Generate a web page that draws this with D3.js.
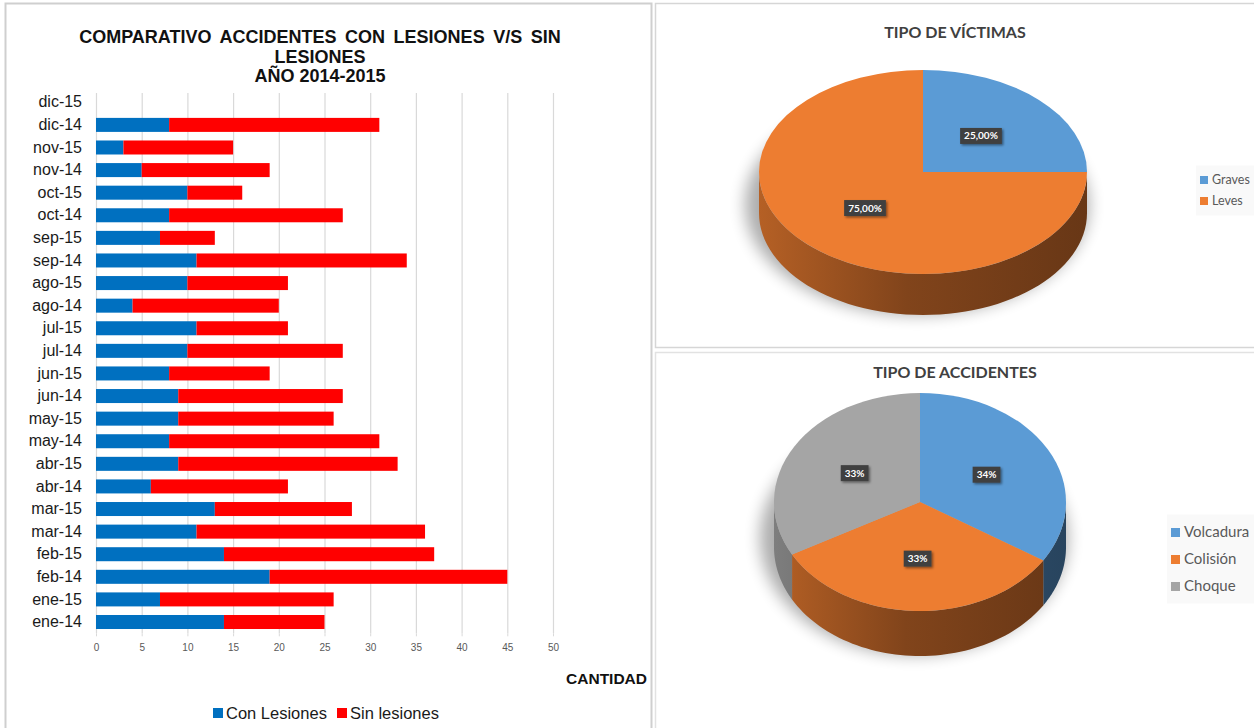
<!DOCTYPE html>
<html>
<head>
<meta charset="utf-8">
<script src="https://cdnjs.cloudflare.com/ajax/libs/d3/7.8.5/d3.min.js"></script>
<style>
  body { margin: 0; background: #fff; }
  svg { display: block; }
</style>
</head>
<body>
<div id="wrapper"></div>
<script>

// 1. Data
const months = ["dic-15", "dic-14", "nov-15", "nov-14", "oct-15", "oct-14", "sep-15", "sep-14",
    "ago-15", "ago-14", "jul-15", "jul-14", "jun-15", "jun-14", "may-15", "may-14",
    "abr-15", "abr-14", "mar-15", "mar-14", "feb-15", "feb-14", "ene-15", "ene-14"]
const conLesiones = [0, 8, 3, 5, 10, 8, 7, 11, 10, 4, 11, 10, 8, 9, 9, 8, 9, 6, 13, 11, 14, 19, 7, 14]
const sinLesiones = [0, 23, 12, 14, 6, 19, 6, 23, 11, 16, 10, 17, 11, 18, 17, 23, 24, 15, 15, 25, 23, 26, 19, 11]
const seriesNames = ["Con Lesiones", "Sin lesiones"]
const seriesColors = ["#0070C0", "#FF0000"]
const xTicks = [0, 5, 10, 15, 20, 25, 30, 35, 40, 45, 50]

const victimLabels = ["Graves", "Leves"]
const victimValues = [25, 75]
const victimText = ["25,00%", "75,00%"]

const accidentLabels = ["Volcadura", "Colisión", "Choque"]
const accidentValues = [34, 33, 33]
const accidentText = ["34%", "33%", "33%"]

const pieColors = ["#5B9BD5", "#ED7D31", "#A5A5A5"]

function draw(){

    const svg = d3.select("#wrapper")
        .append("svg")
        .attr("width", 1254)
        .attr("height", 728)

    const defs = svg.append("defs")

    defs.append("filter")
        .attr("id", "pieShadow")
        .attr("x", "-30%").attr("y", "-30%").attr("width", "160%").attr("height", "160%")
        .append("feGaussianBlur")
        .attr("stdDeviation", 8)

    const boxShadow = defs.append("filter")
        .attr("id", "boxShadow")
        .attr("x", "-40%").attr("y", "-40%").attr("width", "180%").attr("height", "180%")
    boxShadow.append("feDropShadow")
        .attr("dx", 1.5).attr("dy", 1.5)
        .attr("stdDeviation", 1.2)
        .attr("flood-color", "#000")
        .attr("flood-opacity", 0.45)

    // 2. Panel frames
    svg.append("rect")
        .attr("x", 5.5).attr("y", 3.5)
        .attr("width", 646).attr("height", 730)
        .attr("fill", "none")
        .attr("stroke", "#cfcfcf")
        .attr("stroke-width", 2)

    svg.append("rect")
        .attr("x", 655.5).attr("y", 3.5)
        .attr("width", 604).attr("height", 344)
        .attr("fill", "none")
        .attr("stroke", "#d6d6d6")
        .attr("stroke-width", 1.5)

    svg.append("rect")
        .attr("x", 655.5).attr("y", 352.5)
        .attr("width", 604).attr("height", 380)
        .attr("fill", "none")
        .attr("stroke", "#e2e2e2")
        .attr("stroke-width", 1.5)

    // 3. Stacked bar chart
    const barFont = "'Liberation Sans', Arial, sans-serif"

    const xScale = d3.scaleLinear()
        .domain([0, 50])
        .range([96, 553])

    const yScale = d3.scaleBand()
        .domain(months)
        .range([91, 633.3])
        .paddingInner(0.38)
        .paddingOuter(0.19)

    const colorScale = d3.scaleOrdinal()
        .domain(seriesNames)
        .range(seriesColors)

    const title = svg.append("text")
        .attr("x", 320)
        .attr("text-anchor", "middle")
        .style("font-family", barFont)
        .style("font-weight", "bold")
        .style("font-size", "18px")
        .style("fill", "#111")
    title.append("tspan").attr("x", 320).attr("y", 43).attr("word-spacing", "3.6px")
        .text("COMPARATIVO ACCIDENTES CON LESIONES V/S SIN")
    title.append("tspan").attr("x", 320).attr("y", 63).text("LESIONES")
    title.append("tspan").attr("x", 320).attr("y", 82).text("AÑO 2014-2015")

    // gridlines
    const grid = svg.append("g")
        .attr("transform", `translate(0, ${yScale.range()[1]})`)
        .call(d3.axisBottom(xScale)
            .tickValues(xTicks)
            .tickSize(-(yScale.range()[1] - 93))
            .tickFormat(""))
    grid.select(".domain").remove()
    grid.selectAll(".tick line")
        .attr("stroke", "#d9d9d9")
        .attr("stroke-width", 1.2)

    // x tick labels
    const xAxis = svg.append("g")
        .attr("transform", `translate(0, ${yScale.range()[1]})`)
        .call(d3.axisBottom(xScale)
            .tickValues(xTicks)
            .tickSize(3)
            .tickPadding(8))
    xAxis.select(".domain").remove()
    xAxis.selectAll(".tick line").attr("stroke", "#d9d9d9")
    xAxis.selectAll("text")
        .style("font-family", barFont)
        .style("font-size", "10px")
        .style("fill", "#595959")

    // category labels
    const yAxis = svg.append("g")
        .attr("transform", "translate(96, 0)")
        .call(d3.axisLeft(yScale).tickSize(0).tickPadding(14))
    yAxis.select(".domain").remove()
    yAxis.selectAll("text")
        .style("font-family", barFont)
        .style("font-size", "16px")
        .style("fill", "#1a1a1a")

    const barRows = months.map((m, i) => ({month: m, "Con Lesiones": conLesiones[i], "Sin lesiones": sinLesiones[i]}))
    const stacked = d3.stack().keys(seriesNames)(barRows)

    svg.append("g")
        .selectAll("g")
        .data(stacked)
        .join("g")
        .attr("fill", d => colorScale(d.key))
        .selectAll("rect")
        .data(d => d)
        .join("rect")
        .attr("x", d => xScale(d[0]))
        .attr("y", d => yScale(d.data.month))
        .attr("width", d => xScale(d[1]) - xScale(d[0]))
        .attr("height", yScale.bandwidth())

    svg.append("text")
        .attr("x", 647)
        .attr("y", 684)
        .attr("text-anchor", "end")
        .style("font-family", barFont)
        .style("font-weight", "bold")
        .style("font-size", "15.5px")
        .style("fill", "#111")
        .text("CANTIDAD")

    const barLegend = svg.append("g")
        .selectAll("g")
        .data(seriesNames)
        .join("g")
        .attr("transform", (d, i) => `translate(${213 + i * 124}, 713)`)
    barLegend.append("rect")
        .attr("x", 0).attr("y", -5)
        .attr("width", 10).attr("height", 10)
        .attr("fill", d => colorScale(d))
    barLegend.append("text")
        .attr("x", 13)
        .attr("y", 6)
        .style("font-family", barFont)
        .style("font-size", "16.5px")
        .style("fill", "#1a1a1a")
        .text(d => d)

    // 4. 3D pies
    const pieFont = "Lato, 'Open Sans', sans-serif"

    function drawPie(opts){
        const {cx, cy, rx, ry, depth, labels, values, texts, titleText, titleY, k, legend} = opts
        const g = svg.append("g")

        g.append("text")
            .attr("x", 955)
            .attr("y", titleY)
            .attr("text-anchor", "middle")
            .style("font-family", pieFont)
            .style("font-weight", "bold")
            .style("font-size", "16px")
            .style("fill", "#404040")
            .text(titleText)

        const pie = d3.pie().sort(null).value(d => d)
        const arcs = pie(values)
        const colors = d3.scaleOrdinal().domain(labels).range(pieColors)

        // soft shadow below the disc
        g.append("ellipse")
            .attr("cx", cx - 6)
            .attr("cy", cy + depth * 0.8)
            .attr("rx", rx + 8)
            .attr("ry", ry + 8)
            .attr("fill", "#000")
            .attr("opacity", 0.32)
            .attr("filter", "url(#pieShadow)")

        // side walls (only the front half is visible)
        const pt = (t, dy) => [cx + rx * Math.sin(t), cy - ry * Math.cos(t) + dy]
        const line = d3.line()
        arcs.forEach((a, i) => {
            const s = Math.max(a.startAngle, Math.PI / 2)
            const e = Math.min(a.endAngle, Math.PI * 1.5)
            if (s >= e) return
            const n = 60
            const ts = d3.range(n + 1).map(j => s + (e - s) * j / n)
            const pts = ts.map(t => pt(t, 0)).concat(ts.slice().reverse().map(t => pt(t, depth)))

            const gid = `wall-${opts.id}-${i}`
            const base = d3.color(colors(labels[i]))
            const grad = defs.append("linearGradient")
                .attr("id", gid)
                .attr("gradientUnits", "userSpaceOnUse")
                .attr("x1", cx - rx).attr("x2", cx + rx)
                .attr("y1", 0).attr("y2", 0)
            grad.append("stop").attr("offset", "0%").attr("stop-color", base.darker(0.75))
            grad.append("stop").attr("offset", "45%").attr("stop-color", base.darker(1.7))
            grad.append("stop").attr("offset", "100%").attr("stop-color", base.darker(2.3))

            g.append("path")
                .attr("d", line(pts) + "Z")
                .attr("fill", `url(#${gid})`)
        })

        // top face
        g.append("g")
            .attr("transform", `translate(${cx}, ${cy}) scale(1, ${ry / rx})`)
            .selectAll("path")
            .data(arcs)
            .join("path")
            .attr("d", d3.arc().innerRadius(0).outerRadius(rx))
            .attr("fill", (d, i) => colors(labels[i]))

        // data labels
        const lab = g.append("g")
            .selectAll("g")
            .data(arcs)
            .join("g")
            .attr("transform", d => {
                const m = (d.startAngle + d.endAngle) / 2
                return `translate(${cx + rx * k * Math.sin(m)}, ${cy - ry * k * Math.cos(m)})`
            })
        lab.append("rect")
            .attr("fill", "#404040")
            .attr("filter", "url(#boxShadow)")
        lab.append("text")
            .attr("text-anchor", "middle")
            .attr("dy", "0.35em")
            .style("font-family", pieFont)
            .style("font-weight", "bold")
            .style("font-size", "10px")
            .style("fill", "#fff")
            .text((d, i) => texts[i])
        lab.each(function(){
            const bb = d3.select(this).select("text").node().getBBox()
            d3.select(this).select("rect")
                .attr("x", bb.x - 4).attr("y", -8)
                .attr("width", bb.width + 8).attr("height", 16)
        })

        // legend
        const lg = g.append("g")
        lg.append("rect")
            .attr("x", legend.x - 9).attr("y", legend.y - legend.step / 2 - 4)
            .attr("width", legend.w).attr("height", legend.step * labels.length + 8)
            .attr("fill", "#f9f9f9")
        const items = lg.selectAll("g")
            .data(labels)
            .join("g")
            .attr("transform", (d, i) => `translate(${legend.x}, ${legend.y + i * legend.step})`)
        items.append("rect")
            .attr("x", -5).attr("y", -4)
            .attr("width", legend.sq).attr("height", legend.sq)
            .attr("fill", d => colors(d))
        items.append("text")
            .attr("x", legend.sq - 1)
            .attr("dy", "0.35em")
            .style("font-family", pieFont)
            .style("font-size", legend.font)
            .style("fill", "#595959")
            .text(d => d)
    }

    drawPie({
        id: "victimas", cx: 923, cy: 172, rx: 164, ry: 102, depth: 41,
        labels: victimLabels, values: victimValues, texts: victimText,
        titleText: "TIPO DE VÍCTIMAS", titleY: 38, k: 0.5,
        legend: {x: 1205, y: 180, step: 21, sq: 8, w: 59, font: "12.5px"}
    })

    drawPie({
        id: "accidentes", cx: 920, cy: 502, rx: 146, ry: 109, depth: 45,
        labels: accidentLabels, values: accidentValues, texts: accidentText,
        titleText: "TIPO DE ACCIDENTES", titleY: 378, k: 0.52,
        legend: {x: 1176, y: 532, step: 27, sq: 9, w: 88, font: "15px"}
    })
}

draw()
</script>
</body>
</html>
